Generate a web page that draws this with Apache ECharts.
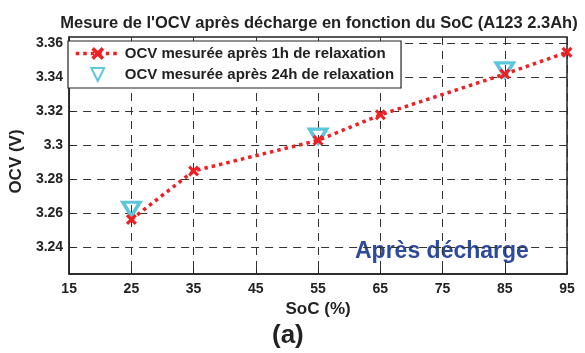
<!DOCTYPE html>
<html>
<head>
<meta charset="utf-8">
<script src="https://cdn.jsdelivr.net/npm/echarts@6/dist/echarts.min.js"></script>
<style>
  html, body { margin: 0; padding: 0; background: #fff; }
  #chart { width: 585px; height: 353px; }
</style>
</head>
<body>
<div id="chart"></div>
<script>
// State of charge (%) at which the OCV was measured
const socValues = [25, 35, 55, 65, 85, 95];
// OCV after 1 h of relaxation (V)
const ocv1h = [3.2565, 3.285, 3.303, 3.318, 3.342, 3.3548];
// OCV after 24 h of relaxation (V), measured at fewer points
const soc24h = [25, 55, 85];
const ocv24h = [3.2625, 3.3055, 3.3445];
// Tick labels on the voltage axis
const yTicks = [3.24, 3.26, 3.28, 3.3, 3.32, 3.34, 3.36];

const FONT = 'Liberation Sans, Arial, sans-serif';
const RED = '#ee2024';
const CYAN = '#5cc6da';
const crossPath = 'path://M2,0 L5,3 L8,0 L10,2 L7,5 L10,8 L8,10 L5,7 L2,10 L0,8 L3,5 L0,2 Z';
const triPath = 'path://M0,0 L10,0 L5,9 Z';
const dotted = [3.5, 4];

const chart = echarts.init(document.getElementById('chart'));
chart.setOption({
  animation: false,
  backgroundColor: '#fff',
  title: {
    text: "Mesure de l'OCV après décharge en fonction du SoC (A123 2.3Ah)",
    left: 314, top: 10, textAlign: 'center',
    textStyle: { fontFamily: FONT, fontSize: 16.5, fontWeight: 'bold', color: '#222' }
  },
  grid: { left: 66, right: 18, top: 37, bottom: 79, show: true, borderColor: '#222', borderWidth: 1.5, backgroundColor: 'transparent' },
  legend: {
    left: 68, top: 41, orient: 'vertical',
    backgroundColor: '#fff', borderColor: '#222', borderWidth: 1.2,
    padding: [5, 7, 6, 6], itemGap: 6, itemWidth: 44, itemHeight: 16,
    textStyle: { fontFamily: FONT, fontSize: 15, fontWeight: 'bold', color: '#222' },
    data: [
      { name: 'OCV mesurée après 1h de relaxation',
        lineStyle: { color: RED, width: 3.5, type: dotted } },
      { name: 'OCV mesurée après 24h de relaxation' }
    ]
  },
  xAxis: {
    type: 'value', min: 15, max: 95, interval: 10,
    name: 'SoC (%)', nameLocation: 'middle', nameGap: 27,
    nameTextStyle: { fontFamily: FONT, fontSize: 17, fontWeight: 'bold', color: '#222' },
    axisLine: { show: true, lineStyle: { color: '#222', width: 1.5 } },
    axisTick: { inside: true, length: 5, lineStyle: { color: '#222' } },
    axisLabel: { fontFamily: FONT, fontSize: 14, fontWeight: 'bold', color: '#222', margin: 8 },
    splitLine: { show: true, lineStyle: { color: '#333', type: [8, 6], width: 1 } }
  },
  yAxis: {
    type: 'value', min: 3.2244, max: 3.3638,
    name: 'OCV (V)', nameLocation: 'middle', nameGap: 44,
    nameTextStyle: { fontFamily: FONT, fontSize: 17, fontWeight: 'bold', color: '#222', padding: [0, 0, 0, -12] },
    axisLine: { show: true, lineStyle: { color: '#222', width: 1.5 } },
    axisTick: { inside: true, length: 5, customValues: yTicks, lineStyle: { color: '#222' } },
    axisLabel: { customValues: yTicks, fontFamily: FONT, fontSize: 14, fontWeight: 'bold', color: '#222', margin: 6,
      formatter: v => String(Math.round(v * 100) / 100) },
    splitLine: { show: true, lineStyle: { color: '#333', type: [8, 6], width: 1 } }
  },
  graphic: [
    { type: 'text', left: 355, top: 240, style: { text: 'Après décharge', font: 'bold 23px ' + FONT, fill: '#2e4a9e' } },
    { type: 'text', left: 272, top: 323, style: { text: '(a)', font: 'bold 26px ' + FONT, fill: '#222' } }
  ],
  series: [
    {
      name: 'OCV mesurée après 24h de relaxation',
      type: 'line', z: 2,
      data: soc24h.map((s, i) => [s, ocv24h[i]]),
      lineStyle: { width: 0 },
      symbol: triPath, symbolSize: [17, 14], showAllSymbol: true,
      itemStyle: { color: 'rgba(255,255,255,0)', borderColor: CYAN, borderWidth: 3.5 }
    },
    {
      name: 'OCV mesurée après 1h de relaxation',
      type: 'line', z: 3,
      data: socValues.map((s, i) => [s, ocv1h[i]]),
      lineStyle: { color: RED, width: 3.5, type: dotted },
      symbol: crossPath, symbolSize: 11,
      itemStyle: { color: RED, borderWidth: 0 }
    }
  ]
});
</script>
</body>
</html>
